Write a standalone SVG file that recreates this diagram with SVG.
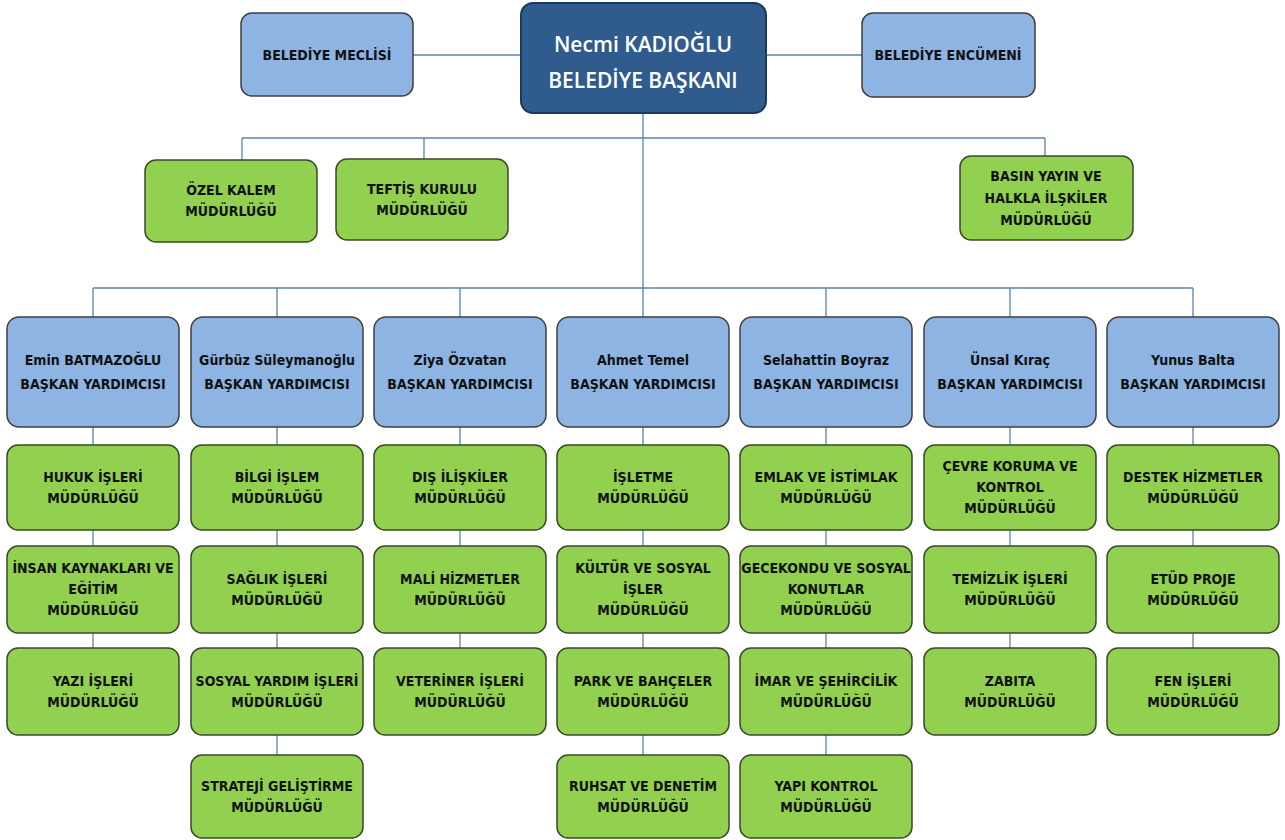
<svg xmlns="http://www.w3.org/2000/svg" width="1285" height="840" viewBox="0 0 1285 840">
<style>
.g rect{fill:#92D050;stroke:#3A4A2A;stroke-width:1.5}
.b rect{fill:#8DB4E2;stroke:#3F3F3F;stroke-width:1.5}
.m rect{fill:#2F5B8D;stroke:#1D3A5E;stroke-width:2}
text{font-family:'Liberation Sans Narrow','DejaVu Sans Condensed','Liberation Sans',sans-serif;font-weight:bold;font-size:14px;text-anchor:middle;dominant-baseline:central;fill:#111}
.m text{fill:#fff;font-family:'Open Sans','Liberation Sans',sans-serif;font-weight:600;font-size:21px}
#conn line{stroke:#5E82A8;stroke-width:1.3}
</style>
<rect width="1285" height="840" fill="#fff"/>
<g id="conn">
<line x1="413" y1="55" x2="521" y2="55"/>
<line x1="766" y1="55" x2="862" y2="55"/>
<line x1="643" y1="113" x2="643" y2="288"/>
<line x1="242" y1="138" x2="1045" y2="138"/>
<line x1="242" y1="138" x2="242" y2="160"/>
<line x1="424" y1="138" x2="424" y2="159"/>
<line x1="1045" y1="138" x2="1045" y2="156"/>
<line x1="93" y1="288" x2="1193" y2="288"/>
<line x1="93" y1="288" x2="93" y2="317"/>
<line x1="277" y1="288" x2="277" y2="317"/>
<line x1="460" y1="288" x2="460" y2="317"/>
<line x1="643" y1="288" x2="643" y2="317"/>
<line x1="826" y1="288" x2="826" y2="317"/>
<line x1="1010" y1="288" x2="1010" y2="317"/>
<line x1="1193" y1="288" x2="1193" y2="317"/>
<line x1="93" y1="427" x2="93" y2="445"/><line x1="93" y1="530" x2="93" y2="546"/><line x1="93" y1="633" x2="93" y2="648"/>
<line x1="277" y1="427" x2="277" y2="445"/><line x1="277" y1="530" x2="277" y2="546"/><line x1="277" y1="633" x2="277" y2="648"/><line x1="277" y1="735" x2="277" y2="755"/>
<line x1="460" y1="427" x2="460" y2="445"/><line x1="460" y1="530" x2="460" y2="546"/><line x1="460" y1="633" x2="460" y2="648"/>
<line x1="643" y1="427" x2="643" y2="445"/><line x1="643" y1="530" x2="643" y2="546"/><line x1="643" y1="633" x2="643" y2="648"/><line x1="643" y1="735" x2="643" y2="755"/>
<line x1="826" y1="427" x2="826" y2="445"/><line x1="826" y1="530" x2="826" y2="546"/><line x1="826" y1="633" x2="826" y2="648"/><line x1="826" y1="735" x2="826" y2="755"/>
<line x1="1010" y1="427" x2="1010" y2="445"/><line x1="1010" y1="530" x2="1010" y2="546"/><line x1="1010" y1="633" x2="1010" y2="648"/>
<line x1="1193" y1="427" x2="1193" y2="445"/><line x1="1193" y1="530" x2="1193" y2="546"/><line x1="1193" y1="633" x2="1193" y2="648"/>
</g>

<g id="meclis" class="b"><rect x="241" y="13" width="172" height="83" rx="11"/><text x="327" y="55">BELEDİYE MECLİSİ</text></g>
<g id="baskan" class="m"><rect x="521" y="3" width="245" height="110" rx="12"/><text x="643" y="44">Necmi KADIOĞLU</text><text x="643" y="80">BELEDİYE BAŞKANI</text></g>
<g id="encumen" class="b"><rect x="862" y="13" width="173" height="84" rx="11"/><text x="948" y="55">BELEDİYE ENCÜMENİ</text></g>

<g id="ozel" class="g"><rect x="145" y="160" width="172" height="82" rx="11"/><text x="231" y="190">ÖZEL KALEM</text><text x="231" y="211">MÜDÜRLÜĞÜ</text></g>
<g id="teftis" class="g"><rect x="336" y="159" width="172" height="81" rx="11"/><text x="422" y="189">TEFTİŞ KURULU</text><text x="422" y="210">MÜDÜRLÜĞÜ</text></g>
<g id="basin" class="g"><rect x="960" y="156" width="173" height="84" rx="11"/><text x="1046" y="176">BASIN YAYIN VE</text><text x="1046" y="198">HALKLA İLŞKİLER</text><text x="1046" y="220">MÜDÜRLÜĞÜ</text></g>

<g id="by1" class="b"><rect x="7" y="317" width="172" height="110" rx="12"/><text x="93" y="360">Emin BATMAZOĞLU</text><text x="93" y="384">BAŞKAN YARDIMCISI</text></g>
<g id="by2" class="b"><rect x="191" y="317" width="172" height="110" rx="12"/><text x="277" y="360">Gürbüz Süleymanoğlu</text><text x="277" y="384">BAŞKAN YARDIMCISI</text></g>
<g id="by3" class="b"><rect x="374" y="317" width="172" height="110" rx="12"/><text x="460" y="360">Ziya Özvatan</text><text x="460" y="384">BAŞKAN YARDIMCISI</text></g>
<g id="by4" class="b"><rect x="557" y="317" width="172" height="110" rx="12"/><text x="643" y="360">Ahmet Temel</text><text x="643" y="384">BAŞKAN YARDIMCISI</text></g>
<g id="by5" class="b"><rect x="740" y="317" width="172" height="110" rx="12"/><text x="826" y="360">Selahattin Boyraz</text><text x="826" y="384">BAŞKAN YARDIMCISI</text></g>
<g id="by6" class="b"><rect x="924" y="317" width="172" height="110" rx="12"/><text x="1010" y="360">Ünsal Kıraç</text><text x="1010" y="384">BAŞKAN YARDIMCISI</text></g>
<g id="by7" class="b"><rect x="1107" y="317" width="172" height="110" rx="12"/><text x="1193" y="360">Yunus Balta</text><text x="1193" y="384">BAŞKAN YARDIMCISI</text></g>

<g id="hukuk" class="g"><rect x="7" y="445" width="172" height="85" rx="11"/><text x="93" y="477">HUKUK İŞLERİ</text><text x="93" y="498">MÜDÜRLÜĞÜ</text></g>
<g id="insan" class="g"><rect x="7" y="546" width="172" height="87" rx="11"/><text x="93" y="568">İNSAN KAYNAKLARI VE</text><text x="93" y="589">EĞİTİM</text><text x="93" y="610">MÜDÜRLÜĞÜ</text></g>
<g id="yazi" class="g"><rect x="7" y="648" width="172" height="87" rx="11"/><text x="93" y="681">YAZI İŞLERİ</text><text x="93" y="702">MÜDÜRLÜĞÜ</text></g>

<g id="bilgi" class="g"><rect x="191" y="445" width="172" height="85" rx="11"/><text x="277" y="477">BİLGİ İŞLEM</text><text x="277" y="498">MÜDÜRLÜĞÜ</text></g>
<g id="saglik" class="g"><rect x="191" y="546" width="172" height="87" rx="11"/><text x="277" y="579">SAĞLIK İŞLERİ</text><text x="277" y="600">MÜDÜRLÜĞÜ</text></g>
<g id="sosyal" class="g"><rect x="191" y="648" width="172" height="87" rx="11"/><text x="277" y="681">SOSYAL YARDIM İŞLERİ</text><text x="277" y="702">MÜDÜRLÜĞÜ</text></g>
<g id="strateji" class="g"><rect x="191" y="755" width="172" height="83" rx="11"/><text x="277" y="786">STRATEJİ GELİŞTİRME</text><text x="277" y="807">MÜDÜRLÜĞÜ</text></g>

<g id="dis" class="g"><rect x="374" y="445" width="172" height="85" rx="11"/><text x="460" y="477">DIŞ İLİŞKİLER</text><text x="460" y="498">MÜDÜRLÜĞÜ</text></g>
<g id="mali" class="g"><rect x="374" y="546" width="172" height="87" rx="11"/><text x="460" y="579">MALİ HİZMETLER</text><text x="460" y="600">MÜDÜRLÜĞÜ</text></g>
<g id="veteriner" class="g"><rect x="374" y="648" width="172" height="87" rx="11"/><text x="460" y="681">VETERİNER İŞLERİ</text><text x="460" y="702">MÜDÜRLÜĞÜ</text></g>

<g id="isletme" class="g"><rect x="557" y="445" width="172" height="85" rx="11"/><text x="643" y="477">İŞLETME</text><text x="643" y="498">MÜDÜRLÜĞÜ</text></g>
<g id="kultur" class="g"><rect x="557" y="546" width="172" height="87" rx="11"/><text x="643" y="568">KÜLTÜR VE SOSYAL</text><text x="643" y="589">İŞLER</text><text x="643" y="610">MÜDÜRLÜĞÜ</text></g>
<g id="park" class="g"><rect x="557" y="648" width="172" height="87" rx="11"/><text x="643" y="681">PARK VE BAHÇELER</text><text x="643" y="702">MÜDÜRLÜĞÜ</text></g>
<g id="ruhsat" class="g"><rect x="557" y="755" width="172" height="83" rx="11"/><text x="643" y="786">RUHSAT VE DENETİM</text><text x="643" y="807">MÜDÜRLÜĞÜ</text></g>

<g id="emlak" class="g"><rect x="740" y="445" width="172" height="85" rx="11"/><text x="826" y="477">EMLAK VE İSTİMLAK</text><text x="826" y="498">MÜDÜRLÜĞÜ</text></g>
<g id="gecekondu" class="g"><rect x="740" y="546" width="172" height="87" rx="11"/><text x="826" y="568">GECEKONDU VE SOSYAL</text><text x="826" y="589">KONUTLAR</text><text x="826" y="610">MÜDÜRLÜĞÜ</text></g>
<g id="imar" class="g"><rect x="740" y="648" width="172" height="87" rx="11"/><text x="826" y="681">İMAR VE ŞEHİRCİLİK</text><text x="826" y="702">MÜDÜRLÜĞÜ</text></g>
<g id="yapi" class="g"><rect x="740" y="755" width="172" height="83" rx="11"/><text x="826" y="786">YAPI KONTROL</text><text x="826" y="807">MÜDÜRLÜĞÜ</text></g>

<g id="cevre" class="g"><rect x="924" y="445" width="172" height="85" rx="11"/><text x="1010" y="466">ÇEVRE KORUMA VE</text><text x="1010" y="487">KONTROL</text><text x="1010" y="508">MÜDÜRLÜĞÜ</text></g>
<g id="temizlik" class="g"><rect x="924" y="546" width="172" height="87" rx="11"/><text x="1010" y="579">TEMİZLİK İŞLERİ</text><text x="1010" y="600">MÜDÜRLÜĞÜ</text></g>
<g id="zabita" class="g"><rect x="924" y="648" width="172" height="87" rx="11"/><text x="1010" y="681">ZABITA</text><text x="1010" y="702">MÜDÜRLÜĞÜ</text></g>

<g id="destek" class="g"><rect x="1107" y="445" width="172" height="85" rx="11"/><text x="1193" y="477">DESTEK HİZMETLER</text><text x="1193" y="498">MÜDÜRLÜĞÜ</text></g>
<g id="etud" class="g"><rect x="1107" y="546" width="172" height="87" rx="11"/><text x="1193" y="579">ETÜD PROJE</text><text x="1193" y="600">MÜDÜRLÜĞÜ</text></g>
<g id="fen" class="g"><rect x="1107" y="648" width="172" height="87" rx="11"/><text x="1193" y="681">FEN İŞLERİ</text><text x="1193" y="702">MÜDÜRLÜĞÜ</text></g>
</svg>
